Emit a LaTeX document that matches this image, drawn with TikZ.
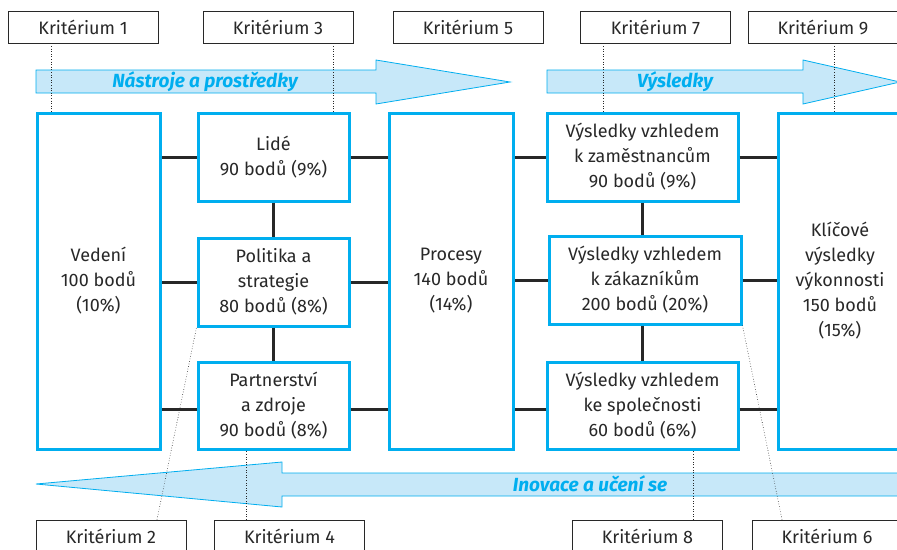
\documentclass[tikz,border=0pt]{standalone}
\usepackage{fontspec}
\setmainfont{Fira Sans}
\usetikzlibrary{positioning,calc}
\definecolor{efqmblue}{RGB}{0,174,239}
\definecolor{efqmfill}{RGB}{199,232,249}
\definecolor{efqmtext}{RGB}{40,40,40}

\begin{document}
\begin{tikzpicture}[x=1pt, y=-1pt,
    crit/.style={rectangle, draw=efqmtext, line width=0.8pt, fill=white, minimum width=150pt, minimum height=32pt, font=\fontsize{18}{20}\selectfont, text=efqmtext},
    mainbox/.style={rectangle, draw=efqmblue, line width=3pt, fill=white, align=center, inner sep=2pt, font=\fontsize{18}{25}\selectfont, text=efqmtext},
    link/.style={line width=3pt, draw=efqmtext},
    guide/.style={dotted, line width=0.6pt, draw=efqmtext},
    flow/.style={draw=efqmblue, line width=0.8pt, fill=efqmfill},
    flowtext/.style={font=\fontsize{19}{20}\selectfont\bfseries\itshape, text=efqmblue},
]
    \useasboundingbox (0,0) rectangle (897,549);
    \clip (0,0) rectangle (897,549);

    % flow arrows
    \draw[flow] (36,70) -- (376,70) -- (376,60) -- (510,82) -- (376,104) -- (376,93) -- (36,93) -- cycle;
    \draw[flow] (547,70) -- (803,70) -- (803,60) -- (900,82) -- (803,104) -- (803,93) -- (547,93) -- cycle;
    \draw[flow] (36,484) -- (282,462) -- (282,473) -- (910,473) -- (910,496) -- (282,496) -- (282,507) -- cycle;
    \node[flowtext] (tools) at (205,82) {Nástroje a prostředky};
    \node[flowtext] (results) at (675,82) {Výsledky};
    \node[flowtext] (learning) at (590,484) {Inovace a učení se};

    % main boxes
    \node[mainbox, minimum width=123pt, minimum height=336pt] (vedeni) at (98.5,281) {Vedení\\100 bodů\\(10\%)};
    \node[mainbox, minimum width=151pt, minimum height=88pt] (lide) at (273.5,157) {Lidé\\90 bodů (9\%)};
    \node[mainbox, minimum width=151pt, minimum height=88pt] (politika) at (273.5,282) {Politika a\\strategie\\80 bodů (8\%)};
    \node[mainbox, minimum width=151pt, minimum height=87pt] (partner) at (273.5,405.5) {Partnerství\\a zdroje\\90 bodů (8\%)};
    \node[mainbox, minimum width=124pt, minimum height=336pt] (procesy) at (451,281) {Procesy\\140 bodů\\(14\%)};
    \node[mainbox, minimum width=191pt, minimum height=88pt] (vzam) at (642.5,157) {Výsledky vzhledem\\k zaměstnancům\\90 bodů (9\%)};
    \node[mainbox, minimum width=192pt, minimum height=88pt] (vzak) at (645,280) {Výsledky vzhledem\\k zákazníkům\\200 bodů (20\%)};
    \node[mainbox, minimum width=191pt, minimum height=87pt] (vspol) at (642.5,405.5) {Výsledky vzhledem\\ke společnosti\\60 bodů (6\%)};
    \node[mainbox, minimum width=124pt, minimum height=336pt] (klicove) at (840,281) {Klíčové\\výsledky\\výkonnosti\\150 bodů\\(15\%)};

    % links
    \draw[link] (lide.west) -- (lide.west -| vedeni.east);
    \draw[link] (politika.west) -- (politika.west -| vedeni.east);
    \draw[link] ([yshift=-3.5pt]partner.west) -- ([yshift=-3.5pt]partner.west -| vedeni.east);
    \draw[link] (lide.east) -- (lide.east -| procesy.west);
    \draw[link] (politika.east) -- (politika.east -| procesy.west);
    \draw[link] ([yshift=-3.5pt]partner.east) -- ([yshift=-3.5pt]partner.east -| procesy.west);
    \draw[link] (vzam.west) -- (vzam.west -| procesy.east);
    \draw[link] (vzak.west) -- (vzak.west -| procesy.east);
    \draw[link] ([yshift=-3.5pt]vspol.west) -- ([yshift=-3.5pt]vspol.west -| procesy.east);
    \draw[link] (vzam.east) -- (vzam.east -| klicove.west);
    \draw[link] (vzak.east) -- (vzak.east -| klicove.west);
    \draw[link] ([yshift=-3.5pt]vspol.east) -- ([yshift=-3.5pt]vspol.east -| klicove.west);
    \draw[link] (lide.south) -- (politika.north);
    \draw[link] (politika.south) -- (partner.north);
    \draw[link] (vzam.south) -- (vzam.south |- vzak.north);
    \draw[link] (vzak.south -| vzam.south) -- (vspol.north);

    % criteria
    \node[crit] (crit1) at (83,27) {Kritérium 1};
    \node[crit] (crit3) at (278,27) {Kritérium 3};
    \node[crit] (crit5) at (468,27) {Kritérium 5};
    \node[crit] (crit7) at (655.5,27) {Kritérium 7};
    \node[crit] (crit9) at (823,27) {Kritérium 9};
    \node[crit] (crit2) at (111,536) {Kritérium 2};
    \node[crit] (crit4) at (289.5,536) {Kritérium 4};
    \node[crit] (crit8) at (647.5,536) {Kritérium 8};
    \node[crit] (crit6) at (827,536) {Kritérium 6};

    % guides
    \draw[guide] ([xshift=-32pt]crit1.south) -- ([xshift=-32pt]crit1.south |- vedeni.north);
    \draw[guide] ([xshift=55pt]crit3.south) -- ([xshift=55pt]crit3.south |- lide.north);
    \draw[guide] ([xshift=-52.5pt]crit7.south) -- ([xshift=-52.5pt]crit7.south |- vzam.north);
    \draw[guide] ([xshift=11pt]crit9.south) -- ([xshift=11pt]crit9.south |- klicove.north);
    \draw[guide] ([xshift=46pt]crit2.north) -- (politika.south west);
    \draw[guide] ([xshift=-43.5pt]crit4.north) -- ([xshift=-43.5pt]crit4.north |- partner.south);
    \draw[guide] ([xshift=45.5pt]crit8.north) -- ([xshift=45.5pt]crit8.north |- vspol.south);
    \draw[guide] ([xshift=-45pt]crit6.north) -- (vzak.south east);
\end{tikzpicture}
\end{document}
